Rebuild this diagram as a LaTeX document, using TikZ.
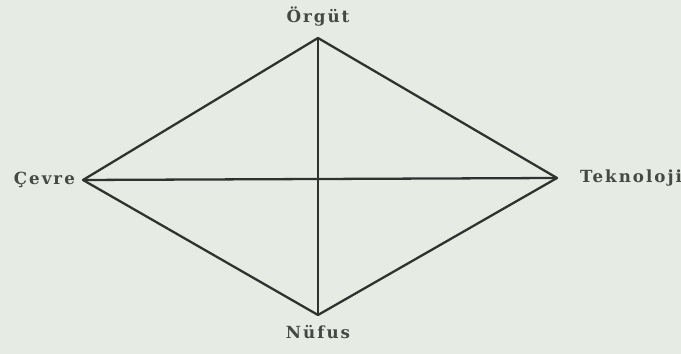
\documentclass[tikz,border=0pt]{standalone}
\usepackage{fontspec}
\setmainfont{DejaVu Serif}[LetterSpace=12]
\usetikzlibrary{positioning}
\definecolor{papercolor}{RGB}{230, 235, 228}
\definecolor{inkcolor}{RGB}{48, 50, 48}
\definecolor{labelcolor}{RGB}{70, 72, 70}
\tikzset{
  vertexlabel/.style={
    font=\fontsize{9.5}{11}\selectfont\bfseries,
    text=labelcolor,
    inner sep=1pt
  },
  edge/.style={
    draw=inkcolor,
    line width=1.3pt,
    line join=round
  }
}
\begin{document}
\begin{tikzpicture}
% Fundo
\fill[papercolor] (0,0) rectangle (13.62,7.08);
\useasboundingbox (0,0) rectangle (13.62,7.08);

% Vertices
\coordinate (orgut) at (6.36,6.32);
\coordinate (cevre) at (1.66,3.48);
\coordinate (teknoloji) at (11.14,3.52);
\coordinate (nufus) at (6.36,0.78);

% Rotulos
\node[vertexlabel, above=0.2cm of orgut] (orgutlabel) {Örgüt};
\node[vertexlabel, left=0.12cm of cevre] (cevrelabel) {Çevre};
\node[vertexlabel, right=0.42cm of teknoloji] (teknolojilabel) {Teknoloji};
\node[vertexlabel, below=0.16cm of nufus] (nufuslabel) {Nüfus};

% Losango
\draw[edge] (orgut) -- (teknoloji) -- (nufus) -- (cevre) -- cycle;

% Diagonais
\draw[edge] (orgut) -- (nufus);
\draw[edge] (cevre) -- (teknoloji);
\end{tikzpicture}
\end{document}
